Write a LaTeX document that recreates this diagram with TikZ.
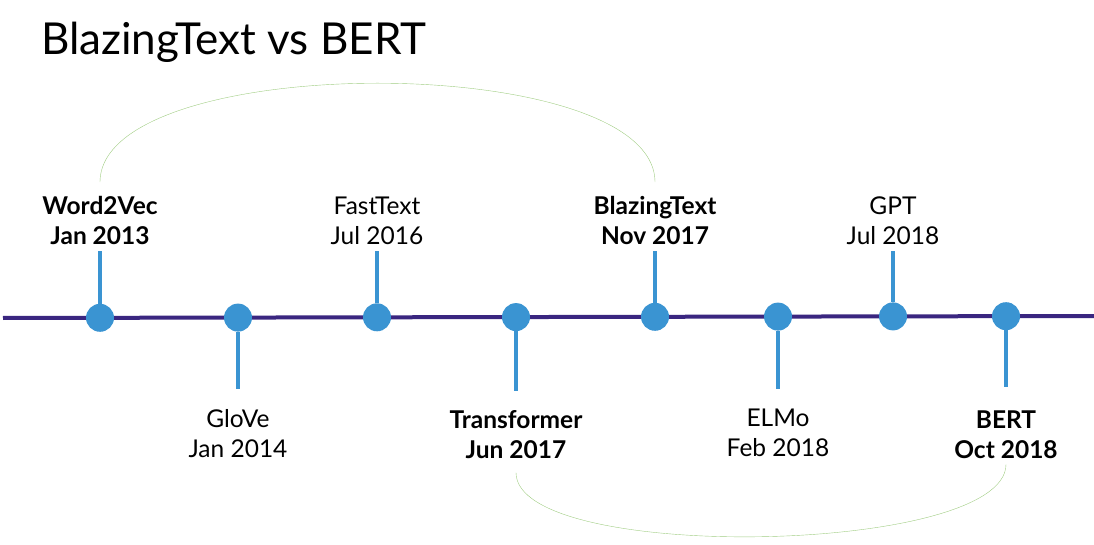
\documentclass[tikz,border=0pt]{standalone}
\usepackage{fontspec}
\setmainfont{Lato}
\usetikzlibrary{positioning}
\definecolor{tlpurple}{RGB}{58,38,128}
\definecolor{dotblue}{RGB}{58,148,210}
\definecolor{arcgreen}{RGB}{160,205,130}
\tikzset{
  %% milestone dot on the axis
  dot/.style={circle,fill=dotblue,minimum size=28pt,inner sep=0pt},
  %% stem from dot to label
  stem/.style={line width=4pt,color=dotblue},
  %% axis line
  tline/.style={line width=4pt,color=tlpurple},
  %% pairing arc
  parc/.style={thin,color=arcgreen},
  %% milestone labels
  lbl/.style={font=\fontsize{24.5}{30}\selectfont,align=center,inner sep=0pt},
  blbl/.style={lbl,font=\fontsize{24.5}{30}\selectfont\bfseries},
}

\begin{document}
\begin{tikzpicture}[x=1pt,y=1pt]
  \useasboundingbox (0,0) rectangle (1094,544);

  %% title
  \node[anchor=base west,inner sep=0pt,font=\fontsize{44}{50}\selectfont]
    (title) at (41,489) {BlazingText vs BERT};

  %% axis
  \coordinate (lstart) at (3,226);
  \coordinate (lend)   at (1094,228);
  \draw[tline] (lstart)--(lend);

  %% dots
  \node[dot] (w2v)   at (100,226.2)  {};
  \node[dot] (glove) at (238,226.4)  {};
  \node[dot] (ftext) at (377,226.7)  {};
  \node[dot] (trf)   at (516,226.9)  {};
  \node[dot] (blz)   at (655,227.2)  {};
  \node[dot] (elmo)  at (778,227.4)  {};
  \node[dot] (gpt)   at (893,227.6)  {};
  \node[dot] (bert)  at (1006,227.8) {};

  %% stem ends
  \coordinate (w2vt)   at (100,293);
  \coordinate (glovet) at (238,155);
  \coordinate (ftextt) at (377,293);
  \coordinate (trft)   at (516,153);
  \coordinate (blzt)   at (655,293);
  \coordinate (elmot)  at (778,155);
  \coordinate (gptt)   at (893,293);
  \coordinate (bertt)  at (1006,157);

  %% stems
  \draw[stem] (w2v.north)--(w2vt);
  \draw[stem] (glove.south)--(glovet);
  \draw[stem] (ftext.north)--(ftextt);
  \draw[stem] (trf.south)--(trft);
  \draw[stem] (blz.north)--(blzt);
  \draw[stem] (elmo.south)--(elmot);
  \draw[stem] (gpt.north)--(gptt);
  \draw[stem] (bert.south)--(bertt);

  %% labels above
  \node[blbl,above=6pt of w2vt]  (w2vl)   {Word2Vec\\Jan 2013};
  \node[lbl,above=6pt of ftextt] (ftextl) {FastText\\Jul 2016};
  \node[blbl,above=6pt of blzt]  (blzl)   {BlazingText\\Nov 2017};
  \node[lbl,above=6pt of gptt]   (gptl)   {GPT\\Jul 2018};

  %% labels below
  \node[lbl,below=20pt of glovet] (glovel) {GloVe\\Jan 2014};
  \node[blbl,below=19pt of trft]  (trfl)   {Transformer\\Jun 2017};
  \node[lbl,below=20pt of elmot]  (elmol)  {ELMo\\Feb 2018};
  \node[blbl,below=24pt of bertt] (bertl)  {BERT\\Oct 2018};

  %% pairing arcs
  \draw[parc] ([yshift=14pt]w2vl.north)
    .. controls +(0,132) and +(0,132) .. ([yshift=14pt]blzl.north);
  \draw[parc] ([yshift=-14pt]trfl.south)
    .. controls +(0,-91) and +(0,-91) .. ([yshift=-5pt]bertl.south);

\end{tikzpicture}
\end{document}
